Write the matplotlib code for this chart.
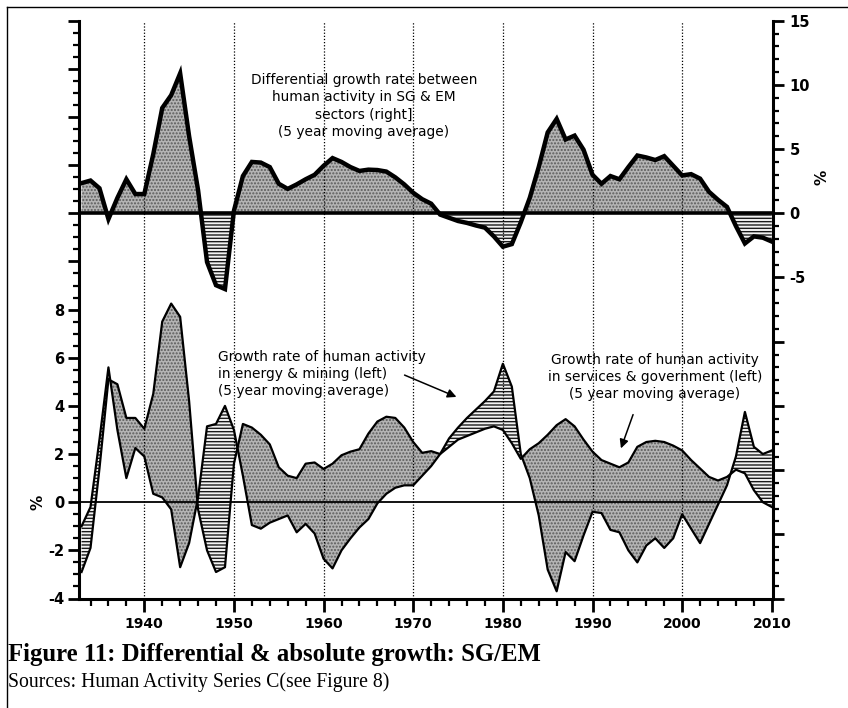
import matplotlib
matplotlib.use("Agg")
import matplotlib.pyplot as plt
import numpy as np
from matplotlib.lines import Line2D
from matplotlib.ticker import FixedLocator, FixedFormatter, MultipleLocator

plt.rcParams['axes.unicode_minus'] = False
plt.rcParams['hatch.linewidth'] = 1.0

years = list(range(1933, 2011))

# Differential growth rate SG - EM (right axis, %)
diff = [2.35, 2.55, 1.95, -0.45, 1.2, 2.65, 1.5,
        1.5, 4.6, 8.2, 9.2, 10.9, 6.0, 1.8, -3.8, -5.6, -5.9,
        0.2, 2.9, 4.0, 3.95, 3.6, 2.3, 1.9, 2.25, 2.65, 3.0,
        3.7, 4.3, 4.0, 3.6, 3.3, 3.4, 3.37, 3.25, 2.8, 2.25,
        1.6, 1.1, 0.75, -0.1, -0.35, -0.6, -0.75, -0.95, -1.12, -1.8,
        -2.6, -2.4, -0.7, 1.2, 3.6, 6.3, 7.35, 5.75, 6.05, 4.95,
        3.0, 2.3, 2.9, 2.65, 3.6, 4.5, 4.35, 4.15, 4.45, 3.7,
        2.95, 3.05, 2.7, 1.67, 1.05, 0.5, -1.0, -2.35, -1.8, -1.9, -2.2]

# Services & government growth rate (left axis, %)
serv = [-2.9, -1.9, 1.4, 5.1, 4.9, 3.5, 3.5,
        3.05, 4.5, 7.5, 8.25, 7.7, 4.2, -0.3, -2.0, -2.9, -2.7,
        1.6, 3.25, 3.1, 2.8, 2.4, 1.45, 1.1, 1.0, 1.6, 1.65,
        1.38, 1.6, 1.95, 2.1, 2.2, 2.85, 3.35, 3.55, 3.5, 3.1,
        2.5, 2.05, 2.12, 2.0, 2.3, 2.6, 2.75, 2.9, 3.05, 3.15,
        3.0, 2.45, 1.8, 2.2, 2.45, 2.8, 3.2, 3.45, 3.15, 2.6,
        2.1, 1.75, 1.6, 1.45, 1.65, 2.3, 2.5, 2.55, 2.5, 2.35,
        2.15, 1.75, 1.4, 1.05, 0.9, 1.05, 1.35, 1.2, 0.5, 0.0, -0.2]

# Energy & mining growth rate (left axis, %)
energy = [-1.0, -0.2, 2.6, 5.6, 3.0, 1.0, 2.25,
          1.9, 0.35, 0.2, -0.3, -2.7, -1.7, 0.2, 3.15, 3.25, 4.0,
          3.0, 1.1, -0.95, -1.1, -0.85, -0.7, -0.55, -1.25, -0.9, -1.3,
          -2.35, -2.75, -2.0, -1.5, -1.05, -0.7, -0.05, 0.35, 0.6, 0.7,
          0.7, 1.1, 1.5, 2.0, 2.65, 3.1, 3.5, 3.85, 4.2, 4.6,
          5.75, 4.8, 2.0, 1.0, -0.55, -2.8, -3.7, -2.07, -2.45, -1.38,
          -0.4, -0.45, -1.15, -1.25, -2.0, -2.5, -1.8, -1.5, -1.9, -1.5,
          -0.5, -1.1, -1.7, -0.9, -0.1, 0.7, 1.9, 3.75, 2.3, 2.0, 2.15]

decades = [1940, 1950, 1960, 1970, 1980, 1990, 2000, 2010]
left_labels = ['-4', '-2', '0', '2', '4', '6', '8']
right_labels = ['-5', '0', '5', '10', '15']

W, H = 848, 708
fig = plt.figure(figsize=(W / 100, H / 100), dpi=100)

def fx(px):
    return px / W

def fy(py):
    return 1 - py / H

axL, axR, axT, axB = 79.3, 772.7, 20.7, 598.5
ax = fig.add_axes([fx(axL), fy(axB), fx(axR) - fx(axL), fy(axT) - fy(axB)])
ax2 = ax.twinx()

x = np.array(years, dtype=float)
d = np.array(diff)
s = np.array(serv)
e = np.array(energy)

stip_fc = '#b4b4b4'
stip_ec = '#5a5a5a'
hatch_fc = '#f2f2f2'
hatch_ec = '#1a1a1a'

# bottom panel (left axis)
ax.fill_between(x, s, e, where=s >= e, interpolate=True, facecolor=stip_fc,
                edgecolor=stip_ec, hatch='.....', linewidth=0, zorder=1)
ax.fill_between(x, s, e, where=s < e, interpolate=True, facecolor=hatch_fc,
                edgecolor=hatch_ec, hatch='-----', linewidth=0, zorder=1)
ax.plot(x, s, color='black', lw=1.6, zorder=3)
ax.plot(x, e, color='black', lw=1.6, zorder=3)
ax.axhline(0, color='black', lw=1.3, zorder=4)

# top panel (right axis)
ax2.fill_between(x, d, 0, where=d >= 0, interpolate=True, facecolor=stip_fc,
                 edgecolor=stip_ec, hatch='.....', linewidth=0, zorder=1)
ax2.fill_between(x, d, 0, where=d < 0, interpolate=True, facecolor=hatch_fc,
                 edgecolor=hatch_ec, hatch='-----', linewidth=0, zorder=1)
ax2.plot(x, d, color='black', lw=3.2, zorder=3, solid_joinstyle='miter')
ax2.axhline(0, color='black', lw=2.6, zorder=4)

for yr in decades[:-1]:
    ax2.axvline(yr, color='black', lw=0.9, ls=(0, (1, 1.5)), zorder=5)

ax.set_xlim(1932.75, 2010.1)
ax.set_ylim(-4, 20)
ax2.set_ylim(-30, 15)

# spines
for sp in ['top', 'right']:
    ax.spines[sp].set_visible(False)
for sp in ['top', 'left', 'bottom']:
    ax2.spines[sp].set_visible(False)
ax.spines['left'].set_linewidth(2.2)
ax.spines['bottom'].set_linewidth(2.2)
ax2.spines['right'].set_linewidth(2.2)

# left ticks
ax.yaxis.set_major_locator(FixedLocator(list(range(-4, 21, 2))))
ax.yaxis.set_major_formatter(FixedFormatter(left_labels + [''] * 6))
ax.yaxis.set_minor_locator(MultipleLocator(0.5))
ax.tick_params(axis='y', which='major', direction='out', length=8, width=2,
               labelsize=10.5, pad=3)
ax.tick_params(axis='y', which='minor', direction='out', length=4, width=1.6)
for lab in ax.get_yticklabels():
    lab.set_fontweight('bold')

# right ticks
ax2.yaxis.set_major_locator(FixedLocator(list(range(-30, 16, 5))))
ax2.yaxis.set_major_formatter(FixedFormatter([''] * 5 + right_labels))
ax2.yaxis.set_minor_locator(MultipleLocator(1))
ax2.tick_params(axis='y', which='major', direction='out', length=8, width=2,
                labelsize=10.5, pad=4)
ax2.tick_params(axis='y', which='minor', direction='out', length=4, width=1.6)
for lab in ax2.get_yticklabels():
    lab.set_fontweight('bold')

# x ticks
ax.xaxis.set_major_locator(FixedLocator(decades))
ax.xaxis.set_major_formatter(FixedFormatter([str(v) for v in decades]))
ax.xaxis.set_minor_locator(MultipleLocator(2))
ax.tick_params(axis='x', which='major', direction='out', length=9, width=2,
               labelsize=10, pad=4)
ax.tick_params(axis='x', which='minor', direction='out', length=5, width=1.6)
for lab in ax.get_xticklabels():
    lab.set_fontfamily(['Liberation Sans Narrow', 'DejaVu Sans'])
    lab.set_fontweight('bold')

# axis "%" labels
fig.text(fx(38), fy(502), '%', rotation=90, ha='center', va='center',
         fontsize=11, fontweight='bold')
fig.text(fx(822), fy(177), '%', rotation=90, ha='center', va='center',
         fontsize=11, fontweight='bold')

# annotations
ann_fs = 9.9
fig.text(fx(364), fy(106),
         'Differential growth rate between\nhuman activity in SG & EM\nsectors (right]\n(5 year moving average)',
         ha='center', va='center', fontsize=ann_fs, linespacing=1.3)
fig.text(fx(218), fy(374),
         'Growth rate of human activity\nin energy & mining (left)\n(5 year moving average)',
         ha='left', va='center', fontsize=ann_fs, linespacing=1.3)
fig.text(fx(655), fy(377),
         'Growth rate of human activity\nin services & government (left)\n(5 year moving average)',
         ha='center', va='center', fontsize=ann_fs, linespacing=1.3)

fig.add_artist(matplotlib.patches.FancyArrowPatch(
    (fx(402), fy(374)), (fx(459), fy(398)), transform=fig.transFigure,
    arrowstyle='-|>', mutation_scale=13, color='black', lw=1.1))
fig.add_artist(matplotlib.patches.FancyArrowPatch(
    (fx(634), fy(412)), (fx(620), fy(451)), transform=fig.transFigure,
    arrowstyle='-|>', mutation_scale=13, color='black', lw=1.1))

# caption
fig.text(fx(8), fy(654), 'Figure 11: Differential & absolute growth: SG/EM',
         ha='left', va='center', fontsize=17.8, fontweight='bold',
         family=['Liberation Serif', 'DejaVu Serif'])
fig.text(fx(8), fy(682), 'Sources: Human Activity Series C(see Figure 8)',
         ha='left', va='center', fontsize=14.2,
         family=['Liberation Serif', 'DejaVu Serif'])

# page frame
fig.add_artist(Line2D([fx(7), 1], [fy(7), fy(7)], color='black', lw=1.0,
                      transform=fig.transFigure))
fig.add_artist(Line2D([fx(7), fx(7)], [fy(7), 0], color='black', lw=1.0,
                      transform=fig.transFigure))

fig.savefig('out.png', dpi=100)
